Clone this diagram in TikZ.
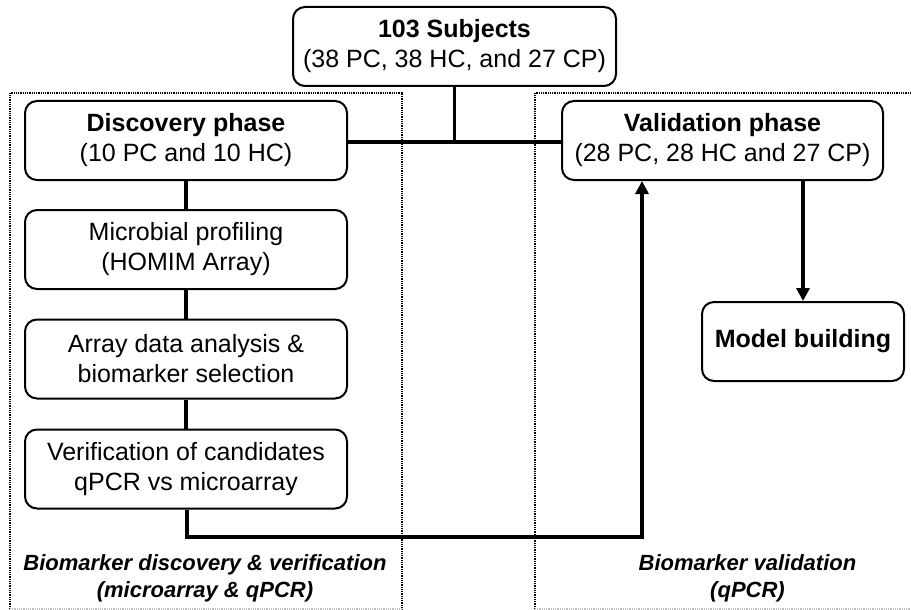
\documentclass[tikz,border=0pt]{standalone}
\usepackage{fontspec}
\setmainfont{Liberation Sans}
\usetikzlibrary{arrows.meta}
\begin{document}
\begin{tikzpicture}[x=1pt,y=-1pt,
  box/.style={draw, line width=2pt, rounded corners=12pt, align=center, inner sep=0pt,
    minimum height=79pt, font=\fontsize{25}{30}\selectfont},
  conn/.style={line width=3.6pt},
  arr/.style={line width=3.6pt, -{Triangle[width=13pt,length=13pt]}},
  region/.style={line width=2pt, dash pattern=on 1pt off 0.8pt},
  lbl/.style={align=center, inner sep=0pt, font=\fontsize{22}{27}\selectfont\bfseries\itshape}]
\useasboundingbox (0,0) rectangle (911,610);
% dotted regions
\draw[region] (10,609) -- (10,93) -- (402,93) -- (402,609);
\draw[region, black!25] (10,609) -- (402,609);
\draw[region] (535,609) -- (535,93) -- (920,93);
\draw[region, black!25] (535,609) -- (920,609);
% nodes
\node[box, minimum width=323pt] (subj) at (454.5,46.5) {\textbf{103 Subjects}\\(38 PC, 38 HC, and 27 CP)};
\node[box, minimum width=322pt] (disc) at (186,140.5) {\textbf{Discovery phase}\\(10 PC and 10 HC)};
\node[box, minimum width=321pt] (valid) at (722.5,140.5) {\textbf{Validation phase}\\(28 PC, 28 HC and 27 CP)};
\node[box, minimum width=322pt] (micro) at (186,249.5) {Microbial profiling\\(HOMIM Array)};
\node[box, minimum width=322pt] (array) at (186,359) {Array data analysis \&\\biomarker selection};
\node[box, minimum width=322pt] (verif) at (186,469) {Verification of candidates\\qPCR vs microarray};
\node[box, minimum width=202pt] (model) at (803,341.5) {\textbf{Model building}};
% labels
\node[lbl] (lab1) at (205,578) {Biomarker discovery \& verification\\(microarray \& qPCR)};
\node[lbl] (lab2) at (747.5,578) {Biomarker validation\\(qPCR)};
% connectors
\coordinate (j) at (454.5,142);
\draw[conn] (subj.south) -- (j);
\draw[conn] (disc.east |- j) -- (valid.west |- j);
\draw[conn] (disc) -- (micro);
\draw[conn] (micro) -- (array);
\draw[conn] (array) -- (verif);
\coordinate (c1) at (187,537);
\coordinate (c2) at (642,537);
\draw[arr] (verif.south -| c1) -- (c1) -- (c2) -- (c2 |- valid.south);
\draw[arr] (valid.south -| model.north) -- (model.north);
\end{tikzpicture}
\end{document}
